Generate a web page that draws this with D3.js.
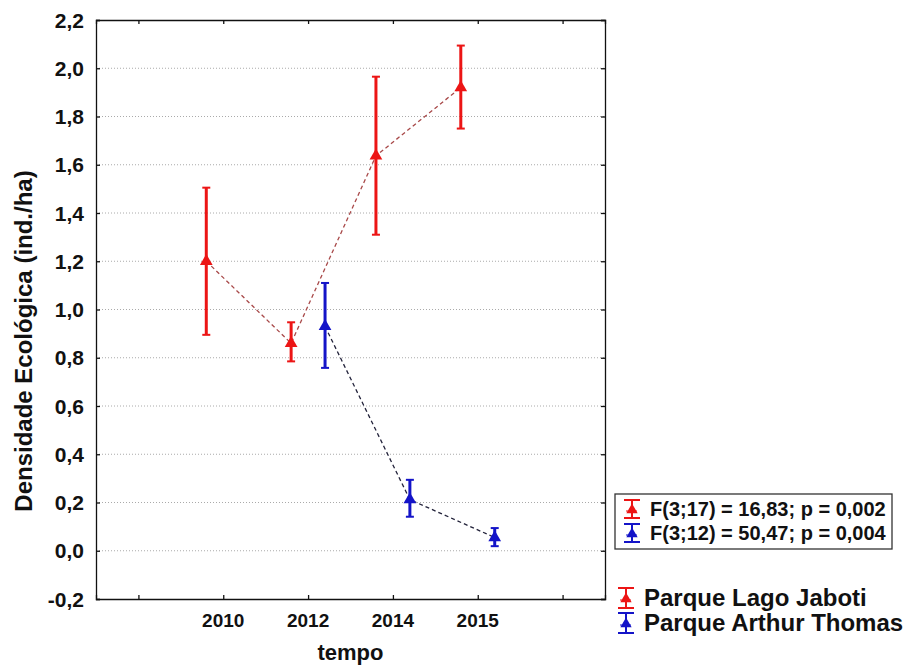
<!DOCTYPE html>
<html>
<head>
<meta charset="utf-8">
<script src="https://cdnjs.cloudflare.com/ajax/libs/d3/7.8.5/d3.min.js"></script>
<style>
body { margin: 0; background: #fff; }
text { font-family: "Liberation Sans", Arial, sans-serif; font-weight: bold; fill: #111; }
</style>
</head>
<body>
<svg id="chart" width="911" height="668"></svg>
<script>
// ---- data ----
const categories = ["", "2010", "2012", "2014", "2015", " "];
const yTicks = [-0.2, 0.0, 0.2, 0.4, 0.6, 0.8, 1.0, 1.2, 1.4, 1.6, 1.8, 2.0, 2.2];

const jabotiYears = ["2010", "2012", "2014", "2015"];
const jabotiMean  = [1.20, 0.86, 1.637, 1.92];
const jabotiLow   = [0.895, 0.785, 1.31, 1.75];
const jabotiHigh  = [1.505, 0.947, 1.965, 2.094];

const arthurYears = ["2012", "2014", "2015"];
const arthurMean  = [0.93, 0.212, 0.055];
const arthurLow   = [0.758, 0.141, 0.019];
const arthurHigh  = [1.11, 0.294, 0.094];

const seriesNames = ["Parque Lago Jaboti", "Parque Arthur Thomas"];
const statLabels = ["F(3;17) = 16,83; p = 0,002", "F(3;12) = 50,47; p = 0,004"];

// ---- layout ----
const svg = d3.select("#chart");
const L = 96, R = 605, T = 20, B = 599;
const red = "#ec1515", blue = "#1414c8";

const x = d3.scalePoint().domain(categories).range([L, R]).padding(0.5);
const y = d3.scaleLinear().domain([-0.2, 2.2]).range([B, T]);
const off = x.step() * 0.2;

// gridlines
svg.append("g").selectAll("line").data(yTicks.filter(v => v > -0.2 && v < 2.2)).join("line")
  .attr("x1", L).attr("x2", R).attr("y1", d => y(d)).attr("y2", d => y(d))
  .attr("stroke", "#aaa").attr("stroke-width", 1).attr("stroke-dasharray", "1,2");

// axes
const fmt = d => d3.format(".1f")(d).replace(".", ",").replace("−", "-");
const gL = svg.append("g").attr("transform", `translate(${L},0)`)
  .call(d3.axisRight(y).tickValues(yTicks).tickSize(4).tickFormat(""));
const gR = svg.append("g").attr("transform", `translate(${R},0)`)
  .call(d3.axisLeft(y).tickValues(yTicks).tickSize(4).tickFormat(""));
const gB = svg.append("g").attr("transform", `translate(0,${B})`)
  .call(d3.axisTop(x).tickSize(4).tickFormat(""));
const gT = svg.append("g").attr("transform", `translate(0,${T})`)
  .call(d3.axisBottom(x).tickSize(4).tickFormat(""));
[gL, gR, gB, gT].forEach(g => {
  g.selectAll("path").attr("stroke", "#111").attr("stroke-width", 1.3);
  g.selectAll("line").attr("stroke", "#111").attr("stroke-width", 1.3);
});

// y tick labels
svg.append("g").selectAll("text").data(yTicks).join("text")
  .attr("x", 84).attr("y", d => y(d)).attr("dy", "0.36em")
  .attr("text-anchor", "end").style("font-size", "21px")
  .text(d => fmt(d));

// x tick labels
svg.append("g").selectAll("text").data(categories.filter(c => c.trim() !== "")).join("text")
  .attr("x", d => x(d)).attr("y", 627)
  .attr("text-anchor", "middle").style("font-size", "19px")
  .text(d => d);

// axis titles
svg.append("text").attr("x", (L + R) / 2).attr("y", 660).attr("text-anchor", "middle")
  .style("font-size", "22px").text("tempo");
svg.append("text").attr("transform", "translate(32,341) rotate(-90)").attr("text-anchor", "middle")
  .style("font-size", "24px").text("Densidade Ecológica (ind./ha)");

// series
function drawSeries(years, mean, low, high, dx, color, lineColor) {
  const g = svg.append("g");
  const pts = years.map((yr, i) => ({ x: x(yr) + dx, m: mean[i], lo: low[i], hi: high[i] }));
  g.append("path").datum(pts)
    .attr("d", d3.line().x(d => d.x).y(d => y(d.m)))
    .attr("fill", "none").attr("stroke", lineColor).attr("stroke-width", 1.3)
    .attr("stroke-dasharray", "4,3");
  g.selectAll(".bar").data(pts).join("line")
    .attr("x1", d => d.x).attr("x2", d => d.x)
    .attr("y1", d => y(d.lo)).attr("y2", d => y(d.hi))
    .attr("stroke", color).attr("stroke-width", 3);
  ["lo", "hi"].forEach(k => {
    g.selectAll(".cap" + k).data(pts).join("line")
      .attr("x1", d => d.x - 4).attr("x2", d => d.x + 4)
      .attr("y1", d => y(d[k])).attr("y2", d => y(d[k]))
      .attr("stroke", color).attr("stroke-width", 2);
  });
  g.selectAll("path.mk").data(pts).join("path").attr("class", "mk")
    .attr("transform", d => `translate(${d.x},${y(d.m)})`)
    .attr("d", d3.symbol(d3.symbolTriangle, 70)())
    .attr("fill", color);
}
drawSeries(jabotiYears, jabotiMean, jabotiLow, jabotiHigh, -off, red, "#a84848");
drawSeries(arthurYears, arthurMean, arthurLow, arthurHigh, off, blue, "#22223a");

// legend icon
function icon(cx, cy, color, h) {
  const g = svg.append("g");
  g.append("line").attr("x1", cx).attr("x2", cx).attr("y1", cy - h / 2).attr("y2", cy + h / 2)
    .attr("stroke", color).attr("stroke-width", 2);
  [cy - h / 2, cy + h / 2].forEach(yy =>
    g.append("line").attr("x1", cx - 8).attr("x2", cx + 8).attr("y1", yy).attr("y2", yy)
      .attr("stroke", color).attr("stroke-width", 2));
  g.append("line").attr("x1", cx - 6).attr("x2", cx + 6).attr("y1", cy + 2).attr("y2", cy + 2)
    .attr("stroke", color).attr("stroke-width", 1).attr("stroke-dasharray", "2,1");
  g.append("path").attr("transform", `translate(${cx},${cy + 1})`)
    .attr("d", d3.symbol(d3.symbolTriangle, 55)()).attr("fill", color);
}

// stats legend
svg.append("rect").attr("x", 615).attr("y", 494).attr("width", 277).attr("height", 55)
  .attr("fill", "#fff").attr("stroke", "#333").attr("stroke-width", 1.3);
const legColors = [red, blue];
statLabels.forEach((s, i) => {
  icon(632, 509 + i * 24, legColors[i], 18);
  svg.append("text").attr("x", 650).attr("y", 516 + i * 24).style("font-size", "20px").text(s);
});

// series legend
seriesNames.forEach((s, i) => {
  icon(626, 598 + i * 25, legColors[i], 20);
  svg.append("text").attr("x", 644).attr("y", 606 + i * 25).style("font-size", "24px").text(s);
});
</script>
</body>
</html>
